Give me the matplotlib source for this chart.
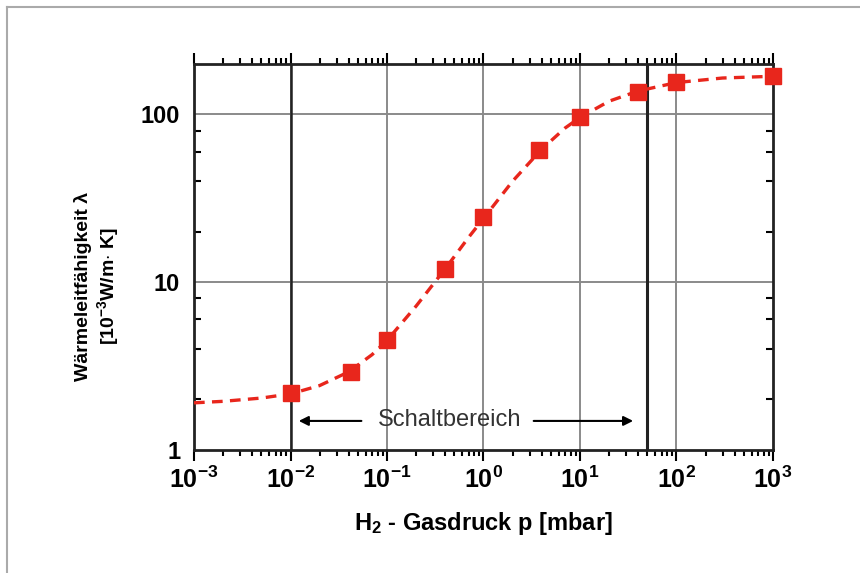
import matplotlib
matplotlib.use("Agg")
import matplotlib.pyplot as plt
from matplotlib.ticker import FixedLocator, LogLocator, NullFormatter
from matplotlib.lines import Line2D

plt.rcParams['font.family'] = ['Liberation Sans', 'DejaVu Sans']
plt.rcParams['mathtext.fontset'] = 'custom'
plt.rcParams['mathtext.rm'] = 'Liberation Sans:bold'
plt.rcParams['mathtext.bf'] = 'Liberation Sans:bold'
plt.rcParams['mathtext.it'] = 'Liberation Sans:bold'

# measured points
pressure = [0.01, 0.042, 0.1, 0.4, 1.0, 3.8, 10, 40, 100, 1000]
conductivity = [2.19, 2.93, 4.54, 12.0, 24.6, 61.7, 96.6, 137, 157, 169]

# dashed fit curve
curve_p = [0.001, 0.002, 0.005, 0.01, 0.02, 0.04, 0.07, 0.1, 0.2, 0.4, 0.7,
           1.0, 2.0, 4.0, 7.0, 10, 20, 40, 100, 300, 1000]
curve_k = [1.91, 1.95, 2.04, 2.16, 2.42, 2.92, 3.7, 4.5, 7.2, 12.0, 18.5,
           24.0, 40.0, 62.0, 83.0, 96.0, 120, 138, 155, 165, 169]

switch_lo = 0.01
switch_hi = 50
xticks = [1e-3, 1e-2, 1e-1, 1e0, 1e1, 1e2, 1e3]
xlabels = [r'$10^{-3}$', r'$10^{-2}$', r'$10^{-1}$', r'$10^{0}$',
           r'$10^{1}$', r'$10^{2}$', r'$10^{3}$']
yticks = [1, 10, 100]
ylabels = ['1', '10', '100']

red = '#e8261c'

fig = plt.figure(figsize=(8.6, 5.73), dpi=100)
ax = fig.add_axes([0.2256, 0.2147, 0.6732, 0.6736])

ax.set_xscale('log')
ax.set_yscale('log')
ax.set_xlim(1e-3, 1e3)
ax.set_ylim(1, 200)

# grid
for xv in xticks[1:-1]:
    ax.axvline(xv, color='#8a8a8a', lw=1.4, zorder=1)
for yv in [10, 100]:
    ax.axhline(yv, color='#8a8a8a', lw=1.4, zorder=1)
ax.axvline(switch_lo, color='#222222', lw=1.8, zorder=2)
ax.axvline(switch_hi, color='#222222', lw=2.2, zorder=2)

ax.plot(curve_p, curve_k, color=red, lw=2.4, ls=(0, (3.2, 2.2)), zorder=3)
ax.plot(pressure, conductivity, ls='none', marker='s', ms=11.5,
        color=red, zorder=4, clip_on=False)

ax.set_xticks(xticks)
ax.set_xticklabels(xlabels)
ax.xaxis.set_minor_locator(LogLocator(base=10, subs=range(2, 10), numticks=20))
ax.xaxis.set_minor_formatter(NullFormatter())
ax.set_yticks(yticks)
ax.set_yticklabels(ylabels)
ax.yaxis.set_minor_locator(FixedLocator([2, 4, 6, 8, 20, 40, 60, 80]))
ax.yaxis.set_minor_formatter(NullFormatter())

ax.tick_params(axis='x', which='both', direction='out', top=True, width=1.5,
               labelsize=18, pad=4)
ax.tick_params(axis='x', which='major', length=8)
ax.tick_params(axis='x', which='minor', length=4)
ax.tick_params(axis='y', which='both', direction='in', right=True, width=1.5)
ax.tick_params(axis='y', which='major', length=0, labelsize=17, pad=10)
ax.tick_params(axis='y', which='minor', length=5)
for lab in ax.get_yticklabels():
    lab.set_fontweight('bold')

for s in ax.spines.values():
    s.set_linewidth(2)
    s.set_color('#222222')

# switching range annotation
ax.text(0.45, 1.50, 'Schaltbereich', ha='center', va='center',
        fontsize=17, color='#333333', zorder=5)
ax.annotate('', xy=(0.0114, 1.49), xytext=(0.058, 1.49),
            arrowprops=dict(arrowstyle='-|>', color='black', lw=1.5,
                            mutation_scale=14))
ax.annotate('', xy=(38, 1.49), xytext=(3.1, 1.49),
            arrowprops=dict(arrowstyle='-|>', color='black', lw=1.5,
                            mutation_scale=14))

ax.set_xlabel(r'H$_2$ - Gasdruck p [mbar]', fontsize=17, fontweight='bold',
              labelpad=12)

fig.text(0.097, 0.5, 'Wärmeleitfähigkeit λ', rotation=90, ha='center',
         va='center', fontsize=14, fontweight='bold')
fig.text(0.126, 0.5, r'[10$^{-3}$W/m$\cdot$ K]', rotation=90, ha='center',
         va='center', fontsize=14, fontweight='bold')

# thin frame at top/left of the image
fig.add_artist(Line2D([0.008, 1.0], [0.988, 0.988], color='#aaaaaa', lw=1.5,
                      transform=fig.transFigure))
fig.add_artist(Line2D([0.008, 0.008], [0.0, 0.988], color='#aaaaaa', lw=1.5,
                      transform=fig.transFigure))

fig.savefig('out.png', dpi=100)
